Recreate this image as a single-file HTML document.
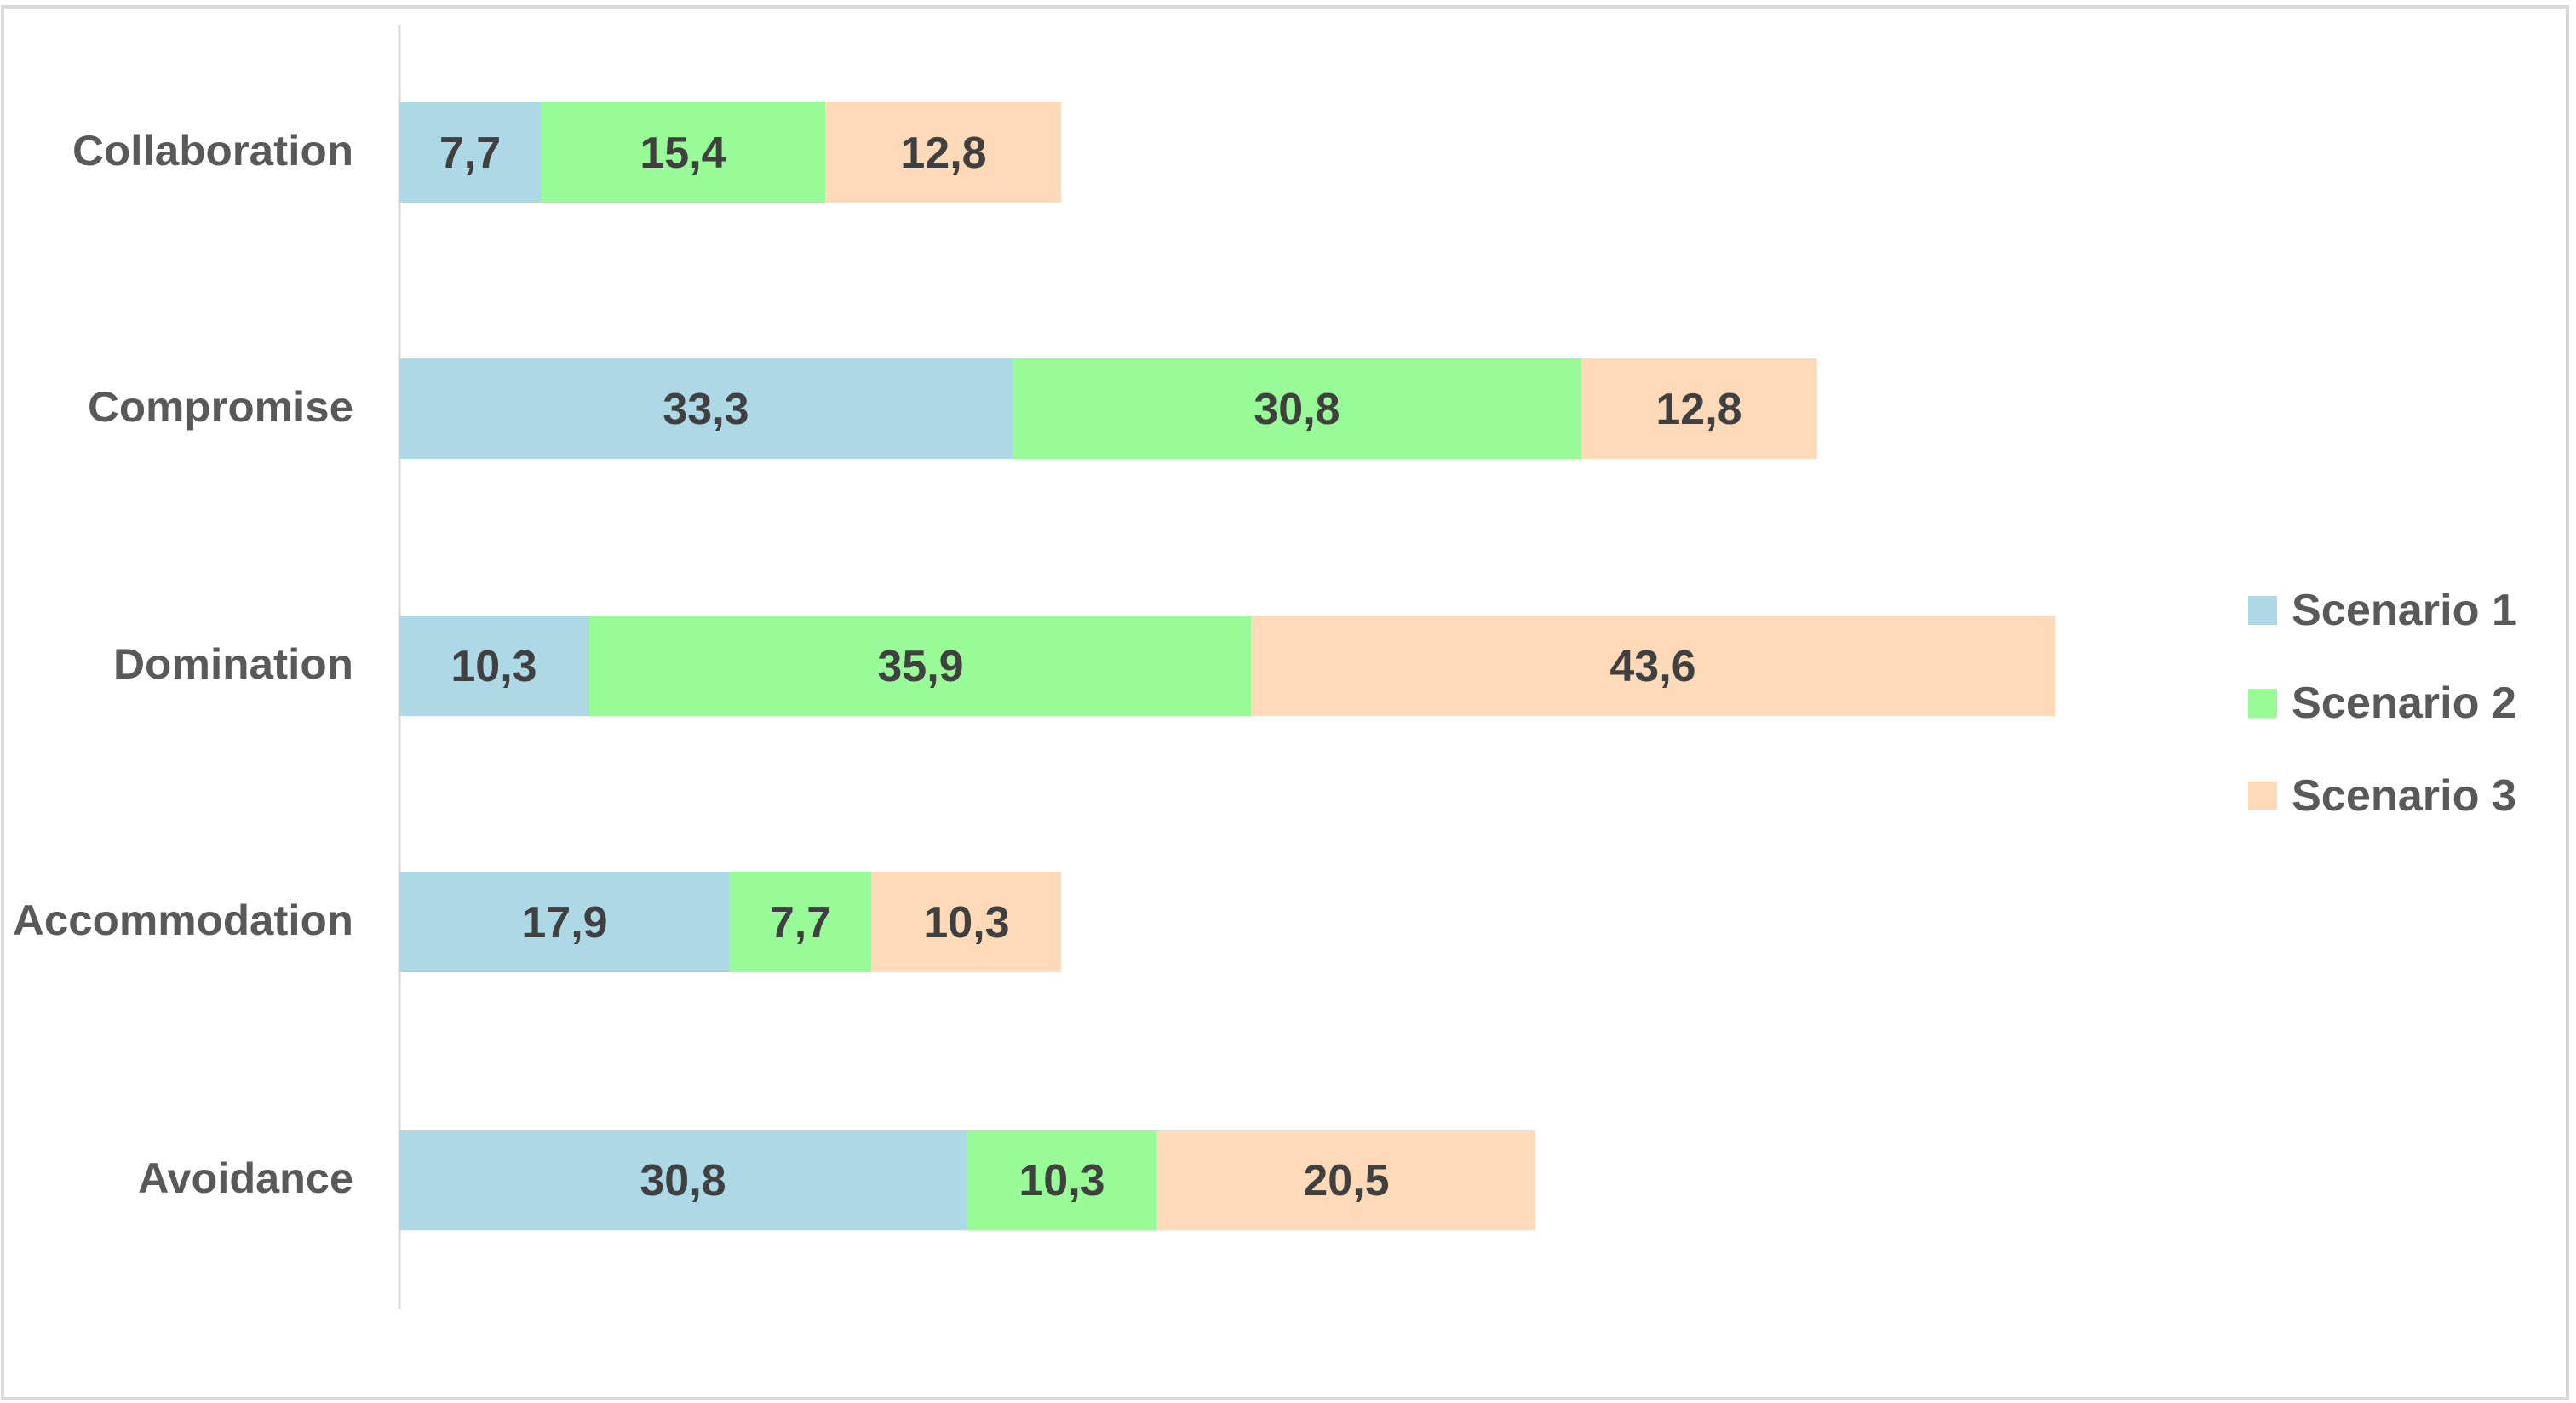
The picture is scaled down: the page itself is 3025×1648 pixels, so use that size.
<!DOCTYPE html>
<html><head><meta charset="utf-8"><style>
html,body{margin:0;padding:0;background:#fff;}
svg{display:block;}
.cat{font-family:"Liberation Sans",sans-serif;font-weight:bold;font-size:50px;fill:#595959;}
.val{font-family:"Liberation Sans",sans-serif;font-weight:bold;font-size:52px;fill:#404040;}
.leg{font-family:"Liberation Sans",sans-serif;font-weight:bold;font-size:52px;fill:#595959;}
</style></head><body>
<svg width="3025" height="1648" viewBox="0 0 3025 1648" xmlns="http://www.w3.org/2000/svg">
<rect x="3" y="8" width="3012" height="1635" fill="#fff" stroke="#d9d9d9" stroke-width="4"/>
<line x1="469" y1="29" x2="469" y2="1537" stroke="#d9d9d9" stroke-width="3"/>
<g>
<rect x="469" y="120" width="166.7" height="118" fill="#ADD8E6"/>
<rect x="635.7" y="120" width="333.4" height="118" fill="#98FB98"/>
<rect x="969.1" y="120" width="277.1" height="118" fill="#FFDAB9"/>
<rect x="469" y="421" width="720.9" height="118" fill="#ADD8E6"/>
<rect x="1189.9" y="421" width="666.8" height="118" fill="#98FB98"/>
<rect x="1856.7" y="421" width="277.1" height="118" fill="#FFDAB9"/>
<rect x="469" y="723" width="223" height="118" fill="#ADD8E6"/>
<rect x="692" y="723" width="777.2" height="118" fill="#98FB98"/>
<rect x="1469.2" y="723" width="943.9" height="118" fill="#FFDAB9"/>
<rect x="469" y="1024" width="387.5" height="118" fill="#ADD8E6"/>
<rect x="856.5" y="1024" width="166.7" height="118" fill="#98FB98"/>
<rect x="1023.2" y="1024" width="223" height="118" fill="#FFDAB9"/>
<rect x="469" y="1327" width="666.8" height="118" fill="#ADD8E6"/>
<rect x="1135.8" y="1327" width="223" height="118" fill="#98FB98"/>
<rect x="1358.8" y="1327" width="443.8" height="118" fill="#FFDAB9"/>
</g>
<g class="cat" text-anchor="end">
<text x="415" y="194" textLength="330" lengthAdjust="spacingAndGlyphs">Collaboration</text>
<text x="415" y="495" textLength="312" lengthAdjust="spacingAndGlyphs">Compromise</text>
<text x="415" y="797" textLength="282" lengthAdjust="spacingAndGlyphs">Domination</text>
<text x="415" y="1098" textLength="400" lengthAdjust="spacingAndGlyphs">Accommodation</text>
<text x="415" y="1401" textLength="253" lengthAdjust="spacingAndGlyphs">Avoidance</text>
</g>
<g class="val" text-anchor="middle">
<text x="552" y="197">7,7</text><text x="802" y="197">15,4</text><text x="1108" y="197">12,8</text>
<text x="829" y="498">33,3</text><text x="1523" y="498">30,8</text><text x="1995" y="498">12,8</text>
<text x="580" y="800">10,3</text><text x="1081" y="800">35,9</text><text x="1941" y="800">43,6</text>
<text x="663" y="1101">17,9</text><text x="940" y="1101">7,7</text><text x="1135" y="1101">10,3</text>
<text x="802" y="1404">30,8</text><text x="1247" y="1404">10,3</text><text x="1581" y="1404">20,5</text>
</g>
<rect x="2640" y="700" width="34" height="34" fill="#ADD8E6"/>
<rect x="2640" y="809" width="34" height="34" fill="#98FB98"/>
<rect x="2640" y="918" width="34" height="34" fill="#FFDAB9"/>
<g class="leg">
<text x="2691" y="734" textLength="264" lengthAdjust="spacingAndGlyphs">Scenario 1</text>
<text x="2691" y="843" textLength="264" lengthAdjust="spacingAndGlyphs">Scenario 2</text>
<text x="2691" y="952" textLength="264" lengthAdjust="spacingAndGlyphs">Scenario 3</text>
</g>
</svg>
</body></html>
